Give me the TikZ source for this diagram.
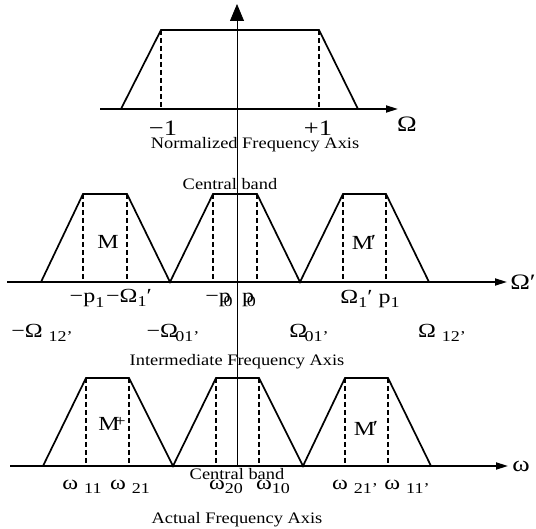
\documentclass[tikz,border=0pt]{standalone}
\usepackage{fontspec}
\setmainfont{Liberation Serif}
\usetikzlibrary{arrows.meta}
\newcommand\sbx[1]{\raisebox{-0.5ex}{\fontsize{15}{15}\selectfont #1}}
\begin{document}
\begin{tikzpicture}[x=1pt,y=-1pt,
  band/.style={line width=1.7pt, line join=miter},
  guide/.style={line width=1.4pt, dash pattern=on 5pt off 3pt},
  axisline/.style={line width=1.7pt,-{Triangle[length=12pt,width=7pt]}},
  lbl/.style={font=\fontsize{20}{20}\selectfont, inner sep=0pt, xscale=1.2},
  biglbl/.style={font=\fontsize{22}{22}\selectfont, inner sep=0pt, xscale=1.2},
  captxt/.style={font=\fontsize{16}{16}\selectfont, inner sep=0pt, xscale=1.15},
]
\useasboundingbox (0,0) rectangle (536,529);

% ---------- vertical axis
\coordinate (vb) at (237,467);
\coordinate (vt) at (237,4);
\draw[line width=0.8pt,-{Triangle[length=17pt,width=14pt]}] (vb) -- (vt);

% ---------- top: normalized
\coordinate (ta0) at (100,109);
\coordinate (ta1) at (398,109);
\draw[axisline] (ta0) -- (ta1);
\draw[band] (121,109) -- (161,30) -- (319,30) -- (358,109);
\draw[guide] (161,30) -- (161,109);
\draw[guide] (319,30) -- (319,109);
\node[biglbl] (m1) at (163,128) {−1};
\node[biglbl] (p1) at (318,128) {+1};
\node[biglbl] (Om) at (407,124) {Ω};
\node[captxt] (norm) at (255,145) {Normalized Frequency Axis};

% ---------- middle: intermediate
\coordinate (ma0) at (7,282);
\coordinate (ma1) at (507,282);
\draw[axisline] (ma0) -- (ma1);
\draw[band] (41,282) -- (83,194) -- (127,194) -- (170,282) -- (213,194) -- (257,194)
  -- (300,282) -- (343,194) -- (386,194) -- (429,282);
\foreach \x in {83,127,213,257,343,386}
  \draw[guide] (\x,194) -- (\x,282);
\node[captxt] (cb1) at (230,184) {Central band};
\node[lbl] (Ml) at (108,242) {M};
\node[lbl] (Mr) at (364,242) {M\kern-0.1em\raisebox{0.1ex}{′}};
\node[biglbl] (Omp) at (523,282) {Ω′};
\node[lbl] (lp1) at (87,300) {−p\sbx{1}};
\node[lbl] (lO1) at (129,298) {−Ω\sbx{1}′};
\node[lbl] (lp0) at (219,300) {−p\kern-0.3em\sbx{0}};
\node[lbl] (rp0) at (249,300) {p\kern-0.3em\sbx{0}};
\node[lbl] (rO1) at (370,299) {Ω\sbx{1}′ p\sbx{1}};
\node[lbl] (lO12) at (42,333) {−Ω \sbx{12'}};
\node[lbl] (lO01) at (173,333) {−Ω\kern-0.1em\sbx{01'}};
\node[lbl] (rO01) at (309,333) {Ω\kern-0.1em\sbx{01'}};
\node[lbl] (rO12) at (442,333) {Ω \sbx{12'}};
\node[captxt] (inter) at (237,362) {Intermediate Frequency Axis};

% ---------- bottom: actual
\coordinate (ba0) at (10,466);
\coordinate (ba1) at (508,466);
\draw[axisline] (ba0) -- (ba1);
\draw[band] (43,466) -- (86,378) -- (129,378) -- (173,466) -- (216,378) -- (259,378)
  -- (303,466) -- (345,378) -- (388,378) -- (431,466);
\foreach \x in {86,129,216,259,345,388}
  \draw[guide] (\x,378) -- (\x,466);
\node[lbl] (Mb) at (112,424) {M\kern-0.2em\raisebox{0.45ex}{\fontsize{16}{16}\selectfont +}};
\node[lbl] (Mbr) at (366,428) {M\kern-0.1em\raisebox{0.1ex}{′}};
\node[captxt] (cb2) at (237,474) {Central band};
\node[biglbl] (om) at (521,466) {ω};
\node[lbl] (w11) at (82,487) {ω \sbx{11}};
\node[lbl] (w21) at (130,487) {ω \sbx{21}};
\node[lbl] (w20) at (226,487) {ω\sbx{20}};
\node[lbl] (w10) at (273,487) {ω\sbx{10}};
\node[lbl] (w21p) at (355,487) {ω \sbx{21'}};
\node[lbl] (w11p) at (407,487) {ω \sbx{11'}};
\node[captxt] (act) at (237,520) {Actual Frequency Axis};
\end{tikzpicture}
\end{document}
